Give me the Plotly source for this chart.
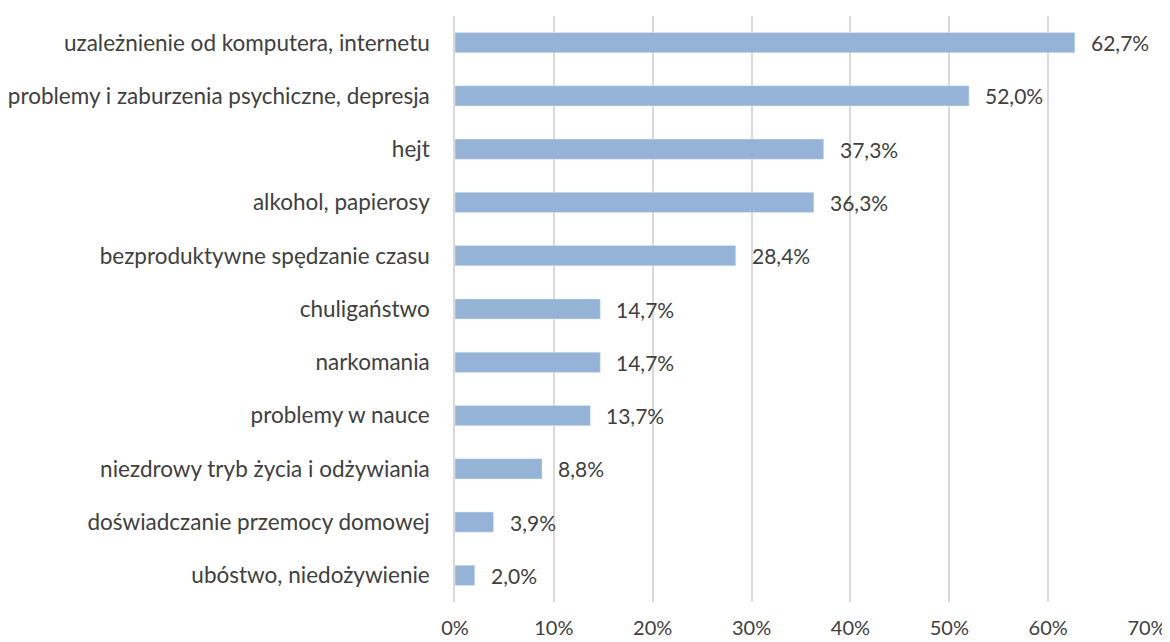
import plotly.graph_objects as go

categories = ['uzależnienie od komputera, internetu',
              'problemy i zaburzenia psychiczne, depresja',
              'hejt',
              'alkohol, papierosy',
              'bezproduktywne spędzanie czasu',
              'chuligaństwo',
              'narkomania',
              'problemy w nauce',
              'niezdrowy tryb życia i odżywiania',
              'doświadczanie przemocy domowej',
              'ubóstwo, niedożywienie']
values = [62.7, 52.0, 37.3, 36.3, 28.4, 14.7, 14.7, 13.7, 8.8, 3.9, 2.0]
xticks = [0, 10, 20, 30, 40, 50, 60, 70]

fontFamily = 'Lato, Open Sans, sans-serif'
textColor = '#404040'
fontSize = 22.5

fig = go.Figure()
fig.add_trace(go.Bar(x=values, y=categories, orientation='h',
                     marker=dict(color='#95B3D7'), width=0.38))

# value labels to the right of each bar
for cat, val in zip(categories, values):
    fig.add_annotation(x=val, y=cat, xref='x', yref='y',
                       text=f'{val:.1f}'.replace('.', ',') + '%',
                       showarrow=False, xanchor='left', xshift=14,
                       font=dict(family=fontFamily, size=21, color=textColor))

# page body has an 8px margin, so the figure is a bit smaller than the window
fig.update_layout(
    width=1162, height=634,
    margin=dict(l=447, r=23, t=8, b=40),
    paper_bgcolor='white', plot_bgcolor='white',
    showlegend=False,
    font=dict(family=fontFamily, size=fontSize, color=textColor),
    xaxis=dict(range=[0, 70], tickvals=xticks,
               ticktext=[f'{t}%' for t in xticks],
               tickfont=dict(size=20),
               showgrid=True, gridcolor='#D9D9D9', gridwidth=1.5,
               zeroline=False, showline=False, automargin=False,
               ticks='outside', ticklen=8, tickcolor='rgba(0,0,0,0)'),
    yaxis=dict(autorange='reversed', showgrid=False, zeroline=False,
               showline=True, linecolor='#D9D9D9', linewidth=1.5,
               automargin=False,
               ticks='outside', ticklen=19, tickcolor='rgba(0,0,0,0)'),
)

fig.write_html('out.html')
